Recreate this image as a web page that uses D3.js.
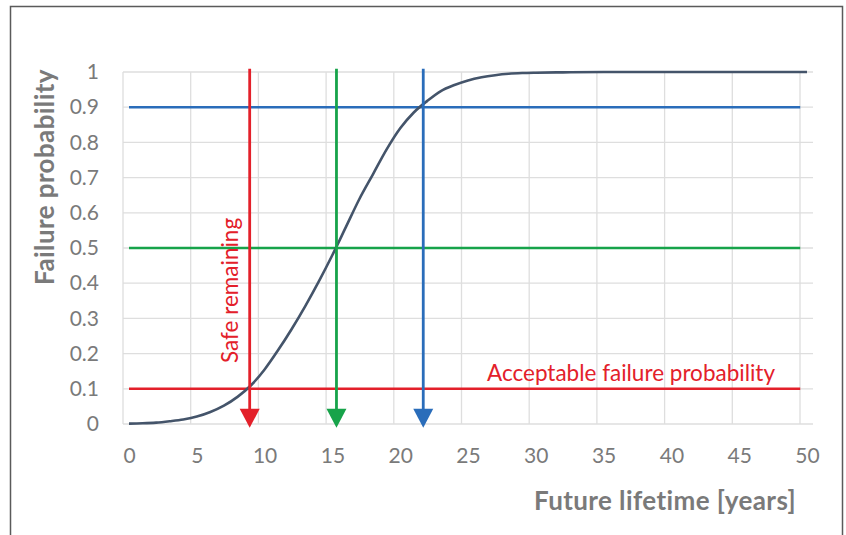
<!DOCTYPE html>
<html>
<head>
<meta charset="utf-8">
<script src="https://cdn.jsdelivr.net/npm/d3@7"></script>
<style>
  body { margin: 0; background: #fff; }
  svg { display: block; font-family: Lato, "Open Sans", sans-serif; }
</style>
</head>
<body>
<div id="chart"></div>
<script>
// curve (years -> failure probability)
const years = [0, 1, 2, 3, 4, 5, 6, 7, 8, 9, 10, 11, 12, 13, 14, 15, 16, 17, 18, 19, 20,
  21, 22, 23, 24, 25, 26, 27, 28, 29, 30, 32, 35, 40, 45, 50];
const probs = [0.001, 0.002, 0.004, 0.008, 0.013, 0.021, 0.034, 0.052, 0.077, 0.11, 0.155,
  0.21, 0.27, 0.335, 0.405, 0.48, 0.56, 0.64, 0.71, 0.78, 0.84,
  0.885, 0.918, 0.946, 0.963, 0.976, 0.985, 0.991, 0.995, 0.997, 0.998, 0.999, 1, 1, 1, 1];

// reference levels and where they cross the curve
const refNames = ["safe", "median", "p90"];
const refProbs = [0.1, 0.5, 0.9];
const refYears = [8.9, 15.3, 21.7];
const refColors = ["#e3202a", "#17a34a", "#2a6dba"];

const xTicks = [0, 5, 10, 15, 20, 25, 30, 35, 40, 45, 50];
const yTicks = [0, 0.1, 0.2, 0.3, 0.4, 0.5, 0.6, 0.7, 0.8, 0.9, 1];
const yTickLabels = ["0", "0.1", "0.2", "0.3", "0.4", "0.5", "0.6", "0.7", "0.8", "0.9", "1"];

const width = 846, height = 535;

const svg = d3.select("#chart")
  .append("svg")
    .attr("width", width)
    .attr("height", height);

// outer frame
svg.append("rect")
  .attr("x", 10.5).attr("y", 6.5)
  .attr("width", 832).attr("height", 540)
  .attr("fill", "none")
  .attr("stroke", "#5a5a5a")
  .attr("stroke-width", 1.5);

// data scale (labels, curve) and grid scale (excel drew its grid a few px to the left)
const x = d3.scaleLinear().domain([0, 50]).range([129, 807]);
const xg = d3.scaleLinear().domain([0, 50]).range([123, 800]);
const y = d3.scaleLinear().domain([0, 1]).range([424, 72]);

// grid
svg.append("g")
  .selectAll("line")
  .data(yTicks)
  .enter()
  .append("line")
    .attr("x1", 123).attr("x2", 813)
    .attr("y1", d => y(d)).attr("y2", d => y(d))
    .attr("stroke", "#dedede")
    .attr("stroke-width", 1.3);

svg.append("g")
  .selectAll("line")
  .data(xTicks)
  .enter()
  .append("line")
    .attr("x1", d => xg(d)).attr("x2", d => xg(d))
    .attr("y1", y(1)).attr("y2", y(0))
    .attr("stroke", "#dedede")
    .attr("stroke-width", 1.3);

// axes
const yAxis = svg.append("g")
  .attr("transform", "translate(123,0)")
  .call(d3.axisLeft(y).tickValues(yTicks).tickSize(0).tickPadding(24)
    .tickFormat((d, i) => yTickLabels[i]));
yAxis.select(".domain").remove();
yAxis.selectAll("text")
  .attr("fill", "#7a7a7a")
  .style("font-size", "21px")
  .style("font-family", "Lato, sans-serif");

const xAxis = svg.append("g")
  .attr("transform", "translate(0," + y(0) + ")")
  .call(d3.axisBottom(x).tickValues(xTicks).tickSize(0).tickPadding(24));
xAxis.select(".domain").remove();
xAxis.selectAll("text")
  .attr("fill", "#7a7a7a")
  .style("font-size", "21px")
  .style("font-family", "Lato, sans-serif");

// axis titles
svg.append("text")
  .attr("transform", "translate(54,177) rotate(-90)")
  .attr("text-anchor", "middle")
  .attr("fill", "#7a7a7a")
  .style("font-size", "26px")
  .style("font-weight", "bold")
  .style("letter-spacing", "0.4px")
  .text("Failure probability");

svg.append("text")
  .attr("x", 796)
  .attr("y", 510)
  .attr("text-anchor", "end")
  .attr("fill", "#7a7a7a")
  .style("font-size", "26px")
  .style("font-weight", "bold")
  .style("letter-spacing", "0.4px")
  .text("Future lifetime [years]");

// horizontal reference lines
svg.append("g")
  .selectAll("line")
  .data(refProbs)
  .enter()
  .append("line")
    .attr("x1", x(0)).attr("x2", x(49.5))
    .attr("y1", d => y(d)).attr("y2", d => y(d))
    .attr("stroke", (d, i) => refColors[i])
    .attr("stroke-width", 2.6);

// failure curve
const line = d3.line()
  .x((d, i) => x(years[i]))
  .y(d => y(d))
  .curve(d3.curveMonotoneX);

svg.append("path")
  .datum(probs)
  .attr("fill", "none")
  .attr("stroke", "#44546a")
  .attr("stroke-width", 2.6)
  .attr("d", line);

// vertical arrows
const head = 19, half = 10;
const arrows = svg.append("g")
  .selectAll("g")
  .data(refYears)
  .enter()
  .append("g")
    .attr("class", (d, i) => "arrow " + refNames[i]);

arrows.append("line")
  .attr("x1", d => x(d)).attr("x2", d => x(d))
  .attr("y1", y(1.009)).attr("y2", y(-0.011) - head + 2)
  .attr("stroke", (d, i) => refColors[i])
  .attr("stroke-width", 2.8);

arrows.append("path")
  .attr("d", d => {
    const tip = y(-0.011);
    return "M" + (x(d) - half) + "," + (tip - head) +
      "L" + (x(d) + half) + "," + (tip - head) +
      "L" + x(d) + "," + tip + "Z";
  })
  .attr("fill", (d, i) => refColors[i]);

// annotations
svg.append("text")
  .attr("transform", "translate(238,363) rotate(-90)")
  .attr("fill", refColors[0])
  .style("font-size", "22.5px")
  .text("Safe remaining");

svg.append("text")
  .attr("x", 487)
  .attr("y", 381)
  .attr("fill", refColors[0])
  .style("font-size", "22.5px")
  .text("Acceptable failure probability");
</script>
</body>
</html>
